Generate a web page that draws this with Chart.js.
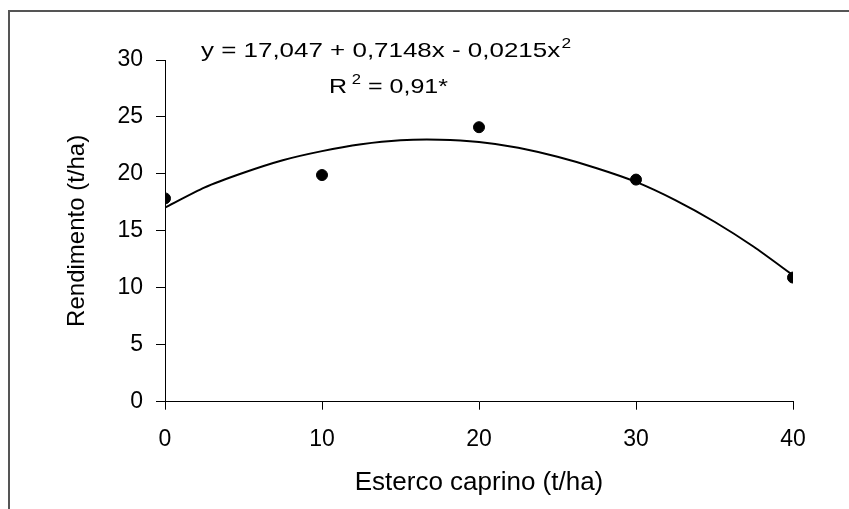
<!DOCTYPE html>
<html>
<head>
<meta charset="utf-8">
<script src="https://cdn.jsdelivr.net/npm/chart.js@4.4.0/dist/chart.umd.min.js"></script>
<style>
  body { margin: 0; background: #fff; }
  #frame { position: absolute; left: 8px; top: 10px; width: 900px; height: 600px; border: 2px solid #555; }
  #myChart { position: absolute; left: 0; top: 0; }
</style>
</head>
<body>
<div id="frame"></div>
<canvas id="myChart" width="849" height="509"></canvas>
<script>
// observed data (esterco caprino, t/ha -> rendimento, t/ha)
const doses = [0, 10, 20, 30, 40];
const rendimento = [17.85, 19.9, 24.1, 19.5, 10.9];

// fitted curve
const curveX = [0, 2.5, 5, 7.5, 10, 12.5, 15, 17.5, 20, 22.5, 25, 27.5, 30, 32.5, 35, 37.5, 40];
const curveY = [17.05, 18.8, 20.1, 21.2, 22.0, 22.6, 22.95, 23.0, 22.8, 22.3, 21.5, 20.5, 19.3, 17.7, 15.8, 13.6, 11.1];

const xTicks = [0, 10, 20, 30, 40];
const yTicks = [0, 5, 10, 15, 20, 25, 30];

const fontFam = '"Liberation Sans", Arial, sans-serif';

// draws "main + superscript 2 + rest", stretched to fit a given width
function drawSupLine(ctx, parts, left, right, baseline) {
    const big = '21px ' + fontFam;
    const small = '14px ' + fontFam;
    let w = 0;
    parts.forEach(p => {
        ctx.font = p.sup ? small : big;
        w += ctx.measureText(p.t).width + (p.gap || 0);
    });
    const sx = (right - left) / w;
    ctx.save();
    ctx.translate(left, baseline);
    ctx.scale(sx, 1);
    let x = 0;
    parts.forEach(p => {
        ctx.font = p.sup ? small : big;
        x += (p.gap || 0);
        ctx.fillText(p.t, x, p.sup ? -9 : 0);
        x += ctx.measureText(p.t).width;
    });
    ctx.restore();
}

const equationPlugin = {
    id: 'equation',
    afterDraw(chart) {
        const ctx = chart.ctx;
        ctx.save();
        ctx.fillStyle = '#000';
        ctx.textBaseline = 'alphabetic';
        drawSupLine(ctx, [
            { t: 'y = 17,047 + 0,7148x - 0,0215x' },
            { t: '2', sup: true, gap: 1 }
        ], 201, 571, 57);
        drawSupLine(ctx, [
            { t: 'R' },
            { t: '2', sup: true, gap: 4 },
            { t: ' = 0,91*' }
        ], 329, 448, 93);
        ctx.restore();
    }
};

const ctx = document.getElementById('myChart').getContext('2d');
const myChart = new Chart(ctx, {
    type: 'scatter',
    data: {
        datasets: [{
            label: 'observado',
            data: doses.map((d, i) => ({ x: d, y: rendimento[i] })),
            backgroundColor: '#000',
            borderColor: '#000',
            pointRadius: 5.5,
            pointHoverRadius: 5.5
        }, {
            label: 'ajuste',
            data: curveX.map((d, i) => ({ x: d, y: curveY[i] })),
            showLine: true,
            borderColor: '#000',
            borderWidth: 2,
            pointRadius: 0,
            tension: 0.2,
            fill: false
        }]
    },
    options: {
        responsive: false,
        animation: false,
        layout: { padding: { left: 0, top: 60, right: 56, bottom: 0 } },
        plugins: {
            legend: { display: false },
            tooltip: { enabled: false }
        },
        scales: {
            x: {
                type: 'linear',
                min: 0,
                max: 40,
                afterFit: (s) => { s.height = 107.3 },
                afterBuildTicks: (s) => { s.ticks = xTicks.map(v => ({ value: v })) },
                border: { color: '#000', width: 1 },
                grid: { drawOnChartArea: false, color: '#000', tickLength: 8 },
                ticks: { color: '#000', font: { family: fontFam, size: 23 }, padding: 16, maxRotation: 0 },
                title: {
                    display: true,
                    text: 'Esterco caprino (t/ha)',
                    color: '#000',
                    font: { family: fontFam, size: 26 },
                    padding: { top: 0, bottom: 11 }
                }
            },
            y: {
                min: 0,
                max: 30,
                afterFit: (s) => { s.width = 165 },
                afterBuildTicks: (s) => { s.ticks = yTicks.map(v => ({ value: v })) },
                border: { color: '#000', width: 1 },
                grid: { drawOnChartArea: false, color: '#000', tickLength: 9 },
                ticks: { color: '#000', font: { family: fontFam, size: 23 }, padding: 13 },
                title: {
                    display: true,
                    text: 'Rendimento (t/ha)',
                    color: '#000',
                    font: { family: fontFam, size: 24 },
                    padding: { top: 63, bottom: 0 }
                }
            }
        }
    },
    plugins: [equationPlugin]
});
</script>
</body>
</html>
